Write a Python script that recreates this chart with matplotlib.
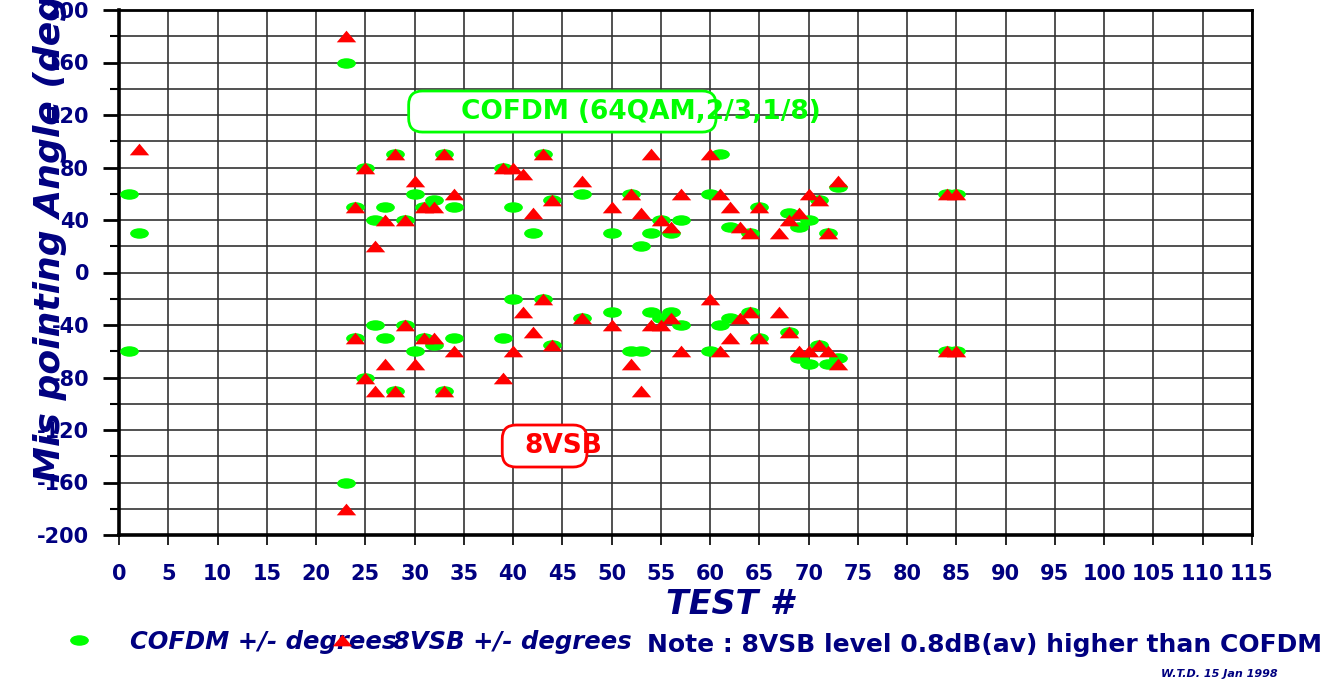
import numpy as np
import matplotlib
matplotlib.use("Agg")
import matplotlib.pyplot as plt
from matplotlib.path import Path
from matplotlib.patches import FancyBboxPatch
from matplotlib.lines import Line2D

# ---------------- data ----------------
cofdm_test = [1, 2, 23, 24, 25, 26, 27, 28, 29, 30, 31, 32, 33, 34, 39, 40, 42, 43, 44, 47,
              50, 52, 53, 54, 55, 56, 57, 60, 61, 62, 64, 65, 68, 69, 70, 71, 72, 73, 84, 85]
cofdm_plus = [60, 30, 160, 50, 80, 40, 50, 90, 40, 60, 50, 55, 90, 50, 80, 50, 30, 90, 55, 60,
              30, 60, 20, 30, 40, 30, 40, 60, 90, 35, 30, 50, 45, 35, 40, 55, 30, 65, 60, 60]
cofdm_minus = [-60, np.nan, -160, -50, -80, -40, -50, -90, -40, -60, -50, -55, -90, -50, -50, -20, np.nan, -20, -55, -35,
               -30, -60, -60, -30, -35, -30, -40, -60, -40, -35, -30, -50, -45, -65, -70, -55, -70, -65, -60, -60]

vsb_test = [2, 23, 24, 25, 26, 27, 28, 29, 30, 31, 32, 33, 34, 39, 40, 41, 42, 43, 44, 47,
            50, 52, 53, 54, 55, 56, 57, 60, 61, 62, 63, 64, 65, 67, 68, 69, 70, 71, 72, 73, 84, 85]
vsb_plus = [94, 180, 50, 80, 20, 40, 90, 40, 70, 50, 50, 90, 60, 80, 80, 75, 45, 90, 55, 70,
            50, 60, 45, 90, 40, 35, 60, 90, 60, 50, 35, 30, 50, 30, 40, 45, 60, 55, 30, 70, 60, 60]
vsb_minus = [np.nan, -180, -50, -80, -90, -70, -90, -40, -70, -50, -50, -90, -60, -80, -60, -30, -45, -20, -55, -35,
             -40, -70, -90, -40, -40, -35, -60, -20, -60, -50, -35, -30, -50, -30, -45, -60, -60, -55, -60, -70, -60, -60]

x_ticks = list(range(0, 116, 5))
y_major = list(range(-200, 201, 40))
y_minor = list(range(-200, 201, 20))

NAVY = "#000080"
GREEN = "#00FF00"
RED = "#FF0000"

# ---------------- markers ----------------
circ = Path.unit_circle()
ellipse = Path(circ.vertices * np.array([1.0, 0.56]), circ.codes)
triangle = Path([(-1, -0.6), (1, -0.6), (0, 0.6), (-1, -0.6)],
                [Path.MOVETO, Path.LINETO, Path.LINETO, Path.CLOSEPOLY])

fig = plt.figure(figsize=(13.27, 6.82), dpi=100)
ax = fig.add_axes([119 / 1327, 1 - 535 / 682, (1252 - 119) / 1327, (535 - 10) / 682])
ax.set_xlim(0, 115)
ax.set_ylim(-200, 200)
ax.set_axisbelow(True)

ax.set_xticks(x_ticks)
ax.set_xticklabels([str(v) for v in x_ticks])
ax.set_yticks(y_major)
ax.set_yticklabels([str(v) for v in y_major])
ax.set_yticks(y_minor, minor=True)

ax.grid(True, axis="x", which="major", color="#333333", lw=1.2)
ax.grid(True, axis="y", which="both", color="#333333", lw=1.2)

ax.tick_params(axis="x", direction="out", length=7, width=1.2, pad=14,
               labelsize=15, labelcolor=NAVY)
ax.tick_params(axis="y", which="major", direction="out", length=11.5, width=2,
               pad=10, labelsize=15, labelcolor=NAVY)
ax.tick_params(axis="y", which="minor", direction="out", length=6.5, width=1.5)
for lab in ax.get_xticklabels() + ax.get_yticklabels():
    lab.set_fontweight("bold")
    lab.set_family("DejaVu Sans")

for side, lw in (("left", 2.6), ("bottom", 2.6), ("top", 2.0), ("right", 2.0)):
    ax.spines[side].set_linewidth(lw)
    ax.spines[side].set_color("black")

# ---------------- data marks ----------------
ax.plot(cofdm_test, cofdm_plus, ls="none", marker=ellipse, ms=13.5, color=GREEN, mec="none", zorder=3)
ax.plot(cofdm_test, cofdm_minus, ls="none", marker=ellipse, ms=13.5, color=GREEN, mec="none", zorder=3)
ax.plot(vsb_test, vsb_plus, ls="none", marker=triangle, ms=14, color=RED, mec="none", zorder=4)
ax.plot(vsb_test, vsb_minus, ls="none", marker=triangle, ms=14, color=RED, mec="none", zorder=4)

# ---------------- annotation boxes ----------------
asp = (1 / 1.3125) / (1 / 9.86)
box1 = FancyBboxPatch((29.4, 107), 60.6 - 29.4, 138.3 - 107,
                      boxstyle="round,pad=0,rounding_size=1.4", mutation_aspect=asp,
                      fc="white", ec=GREEN, lw=2, zorder=2.5)
ax.add_patch(box1)
ax.text(34.7, 122.5, "COFDM (64QAM,2/3,1/8)", color=GREEN, fontsize=19, fontweight="bold",
        ha="left", va="center", zorder=5, family="DejaVu Sans")

box2 = FancyBboxPatch((38.9, -148.2), 47.5 - 38.9, 148.2 - 116.2,
                      boxstyle="round,pad=0,rounding_size=1.4", mutation_aspect=asp,
                      fc="white", ec=RED, lw=2, zorder=2.5)
ax.add_patch(box2)
ax.text(41.1, -132.5, "8VSB", color=RED, fontsize=19, fontweight="bold",
        ha="left", va="center", zorder=5, family="DejaVu Sans")

# ---------------- axis titles ----------------
fig.text(730 / 1327, 1 - 605 / 682, "TEST #", color=NAVY, fontsize=24, fontweight="bold",
         fontstyle="italic", ha="center", va="center", family="DejaVu Sans")
fig.text(50 / 1327, 1 - 482 / 682, "Mis pointing Angle (deg)", color=NAVY, fontsize=26,
         fontweight="bold", fontstyle="italic", rotation=90, rotation_mode="anchor",
         ha="left", va="center", family="DejaVu Sans")

# ---------------- legend row ----------------
fig.add_artist(Line2D([79 / 1327], [1 - 640 / 682], transform=fig.transFigure, ls="none",
                      marker=ellipse, ms=13.5, color=GREEN, mec="none"))
fig.text(130 / 1327, 1 - 642 / 682, "COFDM +/- degrees", color=NAVY, fontsize=17.5,
         fontweight="bold", fontstyle="italic", ha="left", va="center", family="DejaVu Sans")
fig.add_artist(Line2D([342 / 1327], [1 - 640 / 682], transform=fig.transFigure, ls="none",
                      marker=triangle, ms=14, color=RED, mec="none", zorder=5))
fig.text(393 / 1327, 1 - 642 / 682, "8VSB +/- degrees", color=NAVY, fontsize=17.5,
         fontweight="bold", fontstyle="italic", ha="left", va="center", family="DejaVu Sans")
fig.text(647 / 1327, 1 - 645 / 682, "Note : 8VSB level 0.8dB(av) higher than COFDM", color=NAVY,
         fontsize=18, fontweight="bold", ha="left", va="center", family="DejaVu Sans")
fig.text(1161 / 1327, 1 - 674 / 682, "W.T.D. 15 Jan 1998", color=NAVY, fontsize=8,
         fontweight="bold", fontstyle="italic", ha="left", va="center", family="DejaVu Sans")

fig.savefig("out.png", dpi=100)
